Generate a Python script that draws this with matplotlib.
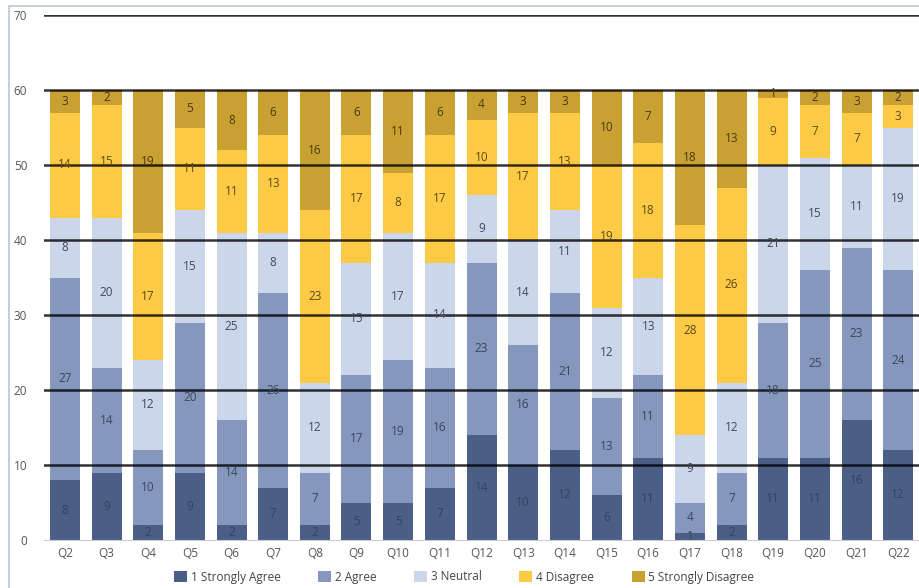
import matplotlib
matplotlib.use("Agg")
import matplotlib.pyplot as plt
import numpy as np

plt.rcParams["font.family"] = ["Open Sans", "DejaVu Sans"]

questions = ["Q2", "Q3", "Q4", "Q5", "Q6", "Q7", "Q8", "Q9", "Q10", "Q11", "Q12",
             "Q13", "Q14", "Q15", "Q16", "Q17", "Q18", "Q19", "Q20", "Q21", "Q22"]
strongly_agree = [8, 9, 2, 9, 2, 7, 2, 5, 5, 7, 14, 10, 12, 6, 11, 1, 2, 11, 11, 16, 12]
agree = [27, 14, 10, 20, 14, 26, 7, 17, 19, 16, 23, 16, 21, 13, 11, 4, 7, 18, 25, 23, 24]
neutral = [8, 20, 12, 15, 25, 8, 12, 15, 17, 14, 9, 14, 11, 12, 13, 9, 12, 21, 15, 11, 19]
disagree = [14, 15, 17, 11, 11, 13, 23, 17, 8, 17, 10, 17, 13, 19, 18, 28, 26, 9, 7, 7, 3]
strongly_disagree = [3, 2, 19, 5, 8, 6, 16, 6, 11, 6, 4, 3, 3, 10, 7, 18, 13, 1, 2, 3, 2]

series = [
    ("1 Strongly Agree", strongly_agree, "#4b5e86", "#34425e"),
    ("2 Agree", agree, "#8597bd", "#3a4660"),
    ("3 Neutral", neutral, "#cbd6ea", "#404a5c"),
    ("4 Disagree", disagree, "#fdca46", "#5a4a1a"),
    ("5 Strongly Disagree", strongly_disagree, "#c9a133", "#4a3a10"),
]

fig = plt.figure(figsize=(9.19, 5.88), dpi=100)
ax = fig.add_axes([44 / 919, 1 - 540 / 588, 875 / 919, 525 / 588])

# light frame around the chart area
fig.patches.append(plt.Rectangle((9 / 919, -0.1), 1.0, 1 - 6 / 588 + 0.1,
                                 transform=fig.transFigure, fill=False,
                                 edgecolor="#b8c8d8", linewidth=1.2))

x = np.arange(len(questions))
width = 0.72
bottom = np.zeros(len(questions))
for label, vals, color, txt in series:
    vals = np.array(vals, dtype=float)
    ax.bar(x, vals, width, bottom=bottom, color=color, label=label, zorder=2)
    for xi, b, v in zip(x, bottom, vals):
        ax.text(xi, b + v / 2, f"{v:.0f}", ha="center", va="center",
                fontsize=8.5, color=txt, zorder=4)
    bottom += vals

# gridlines run over the bars
for yv in range(10, 80, 10):
    ax.axhline(yv, color="black", linewidth=1.8, alpha=0.8, zorder=3)

ax.set_xlim(-0.5, len(questions) - 0.5)
ax.set_ylim(0, 70)
ax.set_yticks(range(0, 80, 10))
ax.set_xticks(x)
ax.set_xticklabels(questions)
ax.tick_params(length=0, labelsize=8.5, labelcolor="#555555")
ax.tick_params(axis="y", pad=12)
ax.tick_params(axis="x", pad=5)
for side in ("top", "right", "left"):
    ax.spines[side].set_visible(False)
ax.spines["bottom"].set_color("#cccccc")

handles, labels = ax.get_legend_handles_labels()
fig.legend(handles, labels, loc="center", ncol=5, frameon=False,
           bbox_to_anchor=(0.505, 1 - 577 / 588), fontsize=8.5,
           handlelength=1.1, handleheight=1.1, columnspacing=3.2,
           handletextpad=0.3, labelcolor="#444444")

fig.savefig("out.png", dpi=100)
